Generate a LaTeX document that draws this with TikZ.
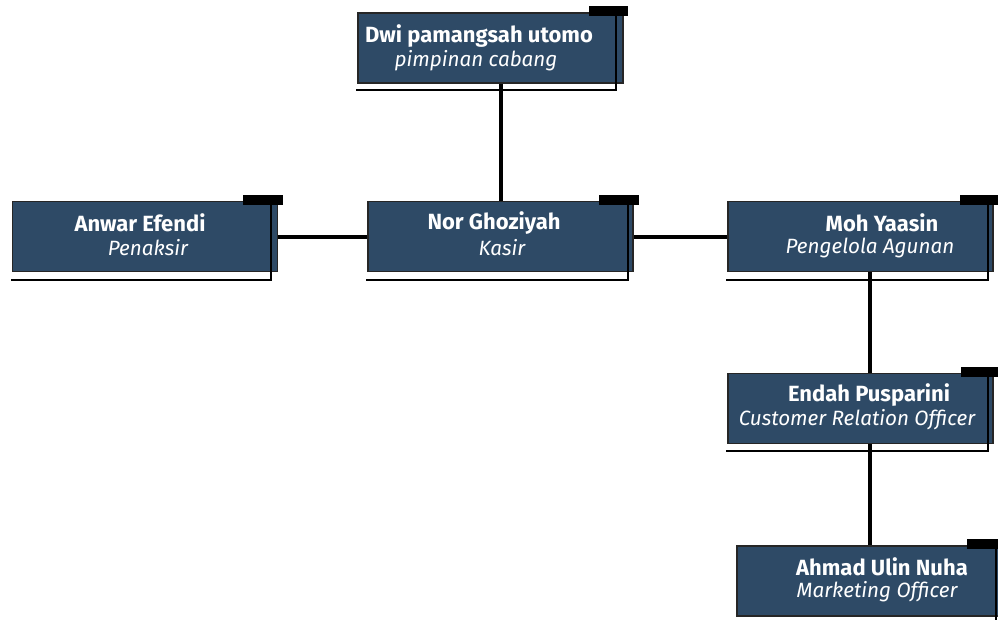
\documentclass[tikz,border=0pt]{standalone}
\usepackage{fontspec}
\setmainfont{Fira Sans}
\usepackage{xcolor}
\usepackage{tikz}
\usetikzlibrary{positioning, calc}
\definecolor{boxblue}{RGB}{46,74,102}
\tikzset{
    orgbox/.style={rectangle, draw=black!85, line width=1.2pt, fill=boxblue, minimum width=198.75pt, minimum height=52.5pt, inner sep=0pt},
    nametext/.style={text=white, font=\fontsize{16.5}{18}\selectfont\bfseries, inner sep=0pt},
    roletext/.style={text=white, font=\fontsize{15.5}{17}\selectfont\itshape, inner sep=0pt},
    accent/.style={fill=black},
    bracket/.style={draw=black, line width=1.5pt},
    link/.style={draw=black, line width=3pt}
}

\begin{document}
\begin{tikzpicture}[x=0.75pt, y=-0.75pt]
    \useasboundingbox (0,0) rectangle (998,620);
    \clip (0,0) rectangle (998,620);

    % Boxes
    \node[orgbox] (dwi) at (490.5,48) {};
    \node[orgbox] (anwar) at (145,236.5) {};
    \node[orgbox] (nor) at (500.5,236.5) {};
    \node[orgbox] (moh) at (860.5,236.5) {};
    \node[orgbox] (endah) at (860.5,408.5) {};
    \node[orgbox] (ahmad) at (869.5,581) {};

    % Connectors
    \draw[link] (nor.north) -- (nor.north |- dwi.south);
    \draw[link] (anwar.east) -- (nor.west);
    \draw[link] (nor.east) -- (moh.west);
    \draw[link] (ahmad.north |- moh.south) -- (ahmad.north |- endah.north);
    \draw[link] (ahmad.north |- endah.south) -- (ahmad.north);

    % Black tabs and corner lines
    \fill[accent] ($(dwi.north east)+(-35,-6)$) rectangle ($(dwi.north east)+(4,4)$);
    \draw[bracket] ($(dwi.north east)+(-8,4)$) |- ($(dwi.south west)+(-1,6)$);
    \fill[accent] ($(anwar.north east)+(-35,-6)$) rectangle ($(anwar.north east)+(5,4)$);
    \draw[bracket] ($(anwar.north east)+(-7,4)$) |- ($(anwar.south west)+(-1,8)$);
    \fill[accent] ($(nor.north east)+(-35,-6)$) rectangle ($(nor.north east)+(5,4)$);
    \draw[bracket] ($(nor.north east)+(-6,4)$) |- ($(nor.south west)+(-1,8)$);
    \fill[accent] ($(moh.north east)+(-34,-6)$) rectangle ($(moh.north east)+(5,4)$);
    \draw[bracket] ($(moh.north east)+(-6,4)$) |- ($(moh.south west)+(-1,8)$);
    \fill[accent] ($(endah.north east)+(-33,-6)$) rectangle ($(endah.north east)+(5,4)$);
    \draw[bracket] ($(endah.north east)+(-6,4)$) |- ($(endah.south west)+(-1,7)$);
    \fill[accent] ($(ahmad.north east)+(-36,-6)$) rectangle ($(ahmad.north east)+(5,4)$);
    \draw[bracket] ($(ahmad.north east)+(-7,4)$) -- ($(ahmad.south east)+(-7,6)$);

    % Names and roles
    \node[nametext] (dwi-name) at (479,36) {Dwi pamangsah utomo};
    \node[roletext] (dwi-role) at (476,61) {pimpinan cabang};
    \node[nametext] (anwar-name) at (140,223) {Anwar Efendi};
    \node[roletext] (anwar-role) at (148,248) {Penaksir};
    \node[nametext] (nor-name) at (494,223) {Nor Ghoziyah};
    \node[roletext] (nor-role) at (502,248) {Kasir};
    \node[nametext] (moh-name) at (882,223) {Moh Yaasin};
    \node[roletext] (moh-role) at (870,248) {Pengelola Agunan};
    \node[nametext] (endah-name) at (869,395) {Endah Pusparini};
    \node[roletext] (endah-role) at (857,420) {Customer Relation Officer};
    \node[nametext] (ahmad-name) at (882,567) {Ahmad Ulin Nuha};
    \node[roletext] (ahmad-role) at (877,592) {Marketing Officer};
\end{tikzpicture}
\end{document}
